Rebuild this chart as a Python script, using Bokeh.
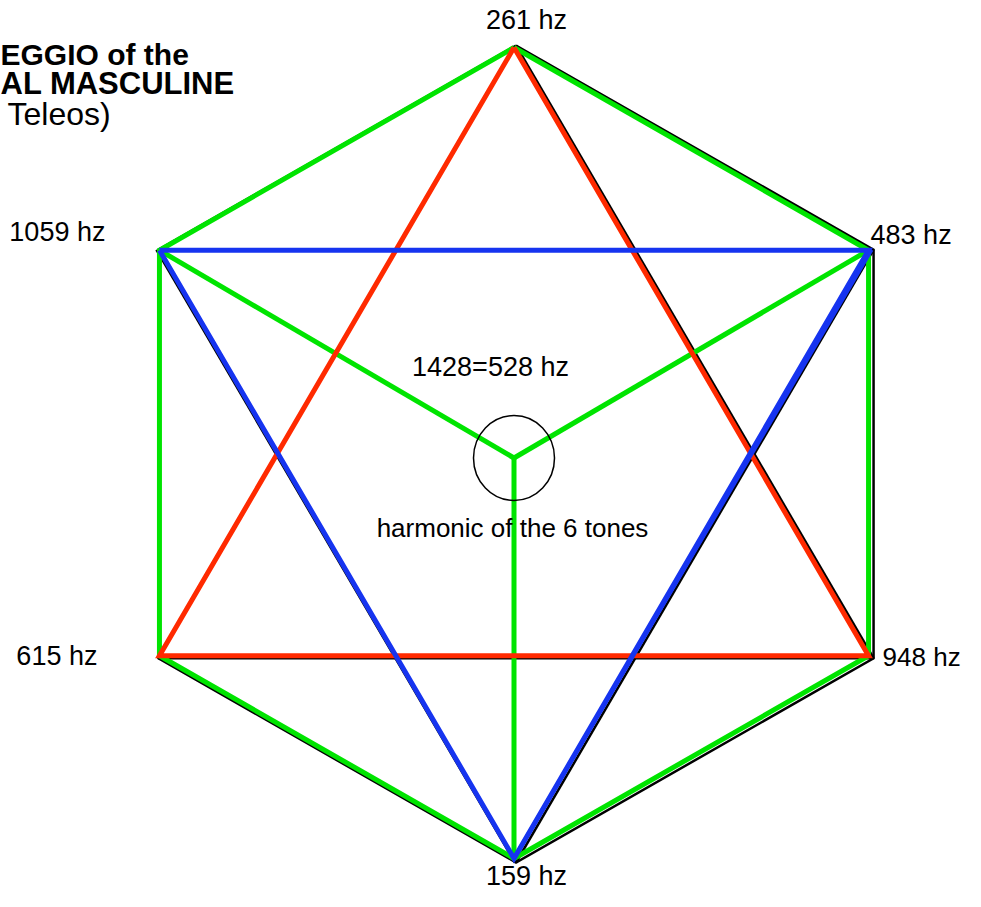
import numpy as np
from bokeh.plotting import figure
from bokeh.models import Range1d
from bokeh.core.properties import value
from bokeh.embed import file_html
from bokeh.resources import INLINE

# ---------------- data ----------------
tones = ["261 hz", "483 hz", "948 hz", "159 hz", "615 hz", "1059 hz"]
angles_deg = [90, 30, -30, -90, -150, 150]
center_label = "1428=528 hz"
center_caption = "harmonic of the 6 tones"
title_lines = ["EGGIO of the", "AL MASCULINE", "Teleos)"]

# figures drawn by vertex index
hexagon = [0, 1, 2, 3, 4, 5, 0]
red_triangle = [0, 2, 4, 0]
blue_triangle = [5, 1, 3, 5]
green_spokes = [5, 1, 3]
black_diagonals = [(0, 2), (5, 3), (4, 2), (1, 3)]

# ---------------- layout ----------------
W, H = 965, 891
PXX, PXY = 409.4, 405.5     # pixels per unit radius (x, y)
CX, CY = 513.5, 452.5       # canvas pixel of hexagon centre

FONT = value("Liberation Sans")
GREEN, RED, BLUE = "#00e400", "#ff2a00", "#1634f0"

p = figure(width=W, height=H, output_backend="svg", toolbar_location=None,
           x_range=Range1d(-CX / PXX, (W - CX) / PXX),
           y_range=Range1d(-(H - CY) / PXY, CY / PXY),
           min_border=0)
p.axis.visible = False
p.grid.visible = False
p.outline_line_color = None
p.background_fill_color = "white"

a = np.radians(angles_deg)
vx, vy = np.cos(a), np.sin(a)
# black outline: slightly larger, shifted right
bx = 2 / PXX + 1.0085 * np.cos(a)
by = -1 / PXY + 1.0074 * np.sin(a)

# center of the spokes / circle
cxx, cyy = 0.0, -5 / PXY

# black lines
p.line(bx[hexagon], by[hexagon], line_color="black", line_width=2.5, line_join="miter")
p.multi_line([[bx[i], bx[j]] for i, j in black_diagonals],
             [[by[i], by[j]] for i, j in black_diagonals],
             line_color="black", line_width=2.5)
# black edge beside the blue 1059 -> 159 stroke
p.line([bx[5] - 2 / PXX, bx[3] - 1 / PXX], [by[5], by[3]], line_color="black", line_width=2.5)

# green hexagon + spokes
p.line(vx[hexagon], vy[hexagon], line_color=GREEN, line_width=5, line_join="miter")
p.multi_line([[cxx, vx[i]] for i in green_spokes],
             [[cyy, vy[i]] for i in green_spokes],
             line_color=GREEN, line_width=5)

# red up triangle
p.line(vx[red_triangle], vy[red_triangle], line_color=RED, line_width=5, line_join="miter")
# blue down triangle (+ a second stroke on the right edge)
p.line(vx[blue_triangle], vy[blue_triangle], line_color=BLUE, line_width=5, line_join="miter")
p.line([bx[1] - 2 / PXX, vx[3]], [by[1], vy[3]], line_color=BLUE, line_width=4)

# circle
p.ellipse(x=[cxx], y=[cyy], width=81 / PXX, height=85 / PXY,
          fill_color=None, line_color="black", line_width=1.5)

# tone labels
label_dx = [10.5, -3, 9, 10.5, -61, -53]
label_dy = [-25, -15, -1, 13, -2.75, -17.25]
label_align = ["center", "left", "left", "center", "right", "right"]
label_size = ["27px", "27px", "26px", "27px", "27px", "27px"]
lx = bx + np.array(label_dx) / PXX
ly = by - np.array(label_dy) / PXY
for i in range(6):
    p.text(x=[lx[i]], y=[ly[i]], text=[tones[i]], text_align=label_align[i],
           text_baseline="middle", text_font=FONT, text_font_size=label_size[i],
           text_color="black")

p.text(x=[(490 - CX) / PXX], y=[(CY - 366) / PXY], text=[center_label], text_align="center",
       text_baseline="middle", text_font=FONT, text_font_size="27px", text_color="black")
p.text(x=[(512 - CX) / PXX], y=[(CY - 527) / PXY], text=[center_caption], text_align="center",
       text_baseline="middle", text_font=FONT, text_font_size="26px", text_color="black")

# title (clipped at left in the original)
title_y_px = [54, 83, 113]
title_style = ["bold", "bold", "normal"]
title_size = ["30px", "31px", "32px"]
title_x_px = [0, 0, 7]
for t, xp, yp, st, fs in zip(title_lines, title_x_px, title_y_px, title_style, title_size):
    p.text(x=[(xp - CX) / PXX], y=[(CY - yp) / PXY], text=[t], text_align="left",
           text_baseline="middle", text_font=FONT, text_font_size=fs,
           text_font_style=st, text_color="black")

open("out.html", "w").write(file_html(p, INLINE))
